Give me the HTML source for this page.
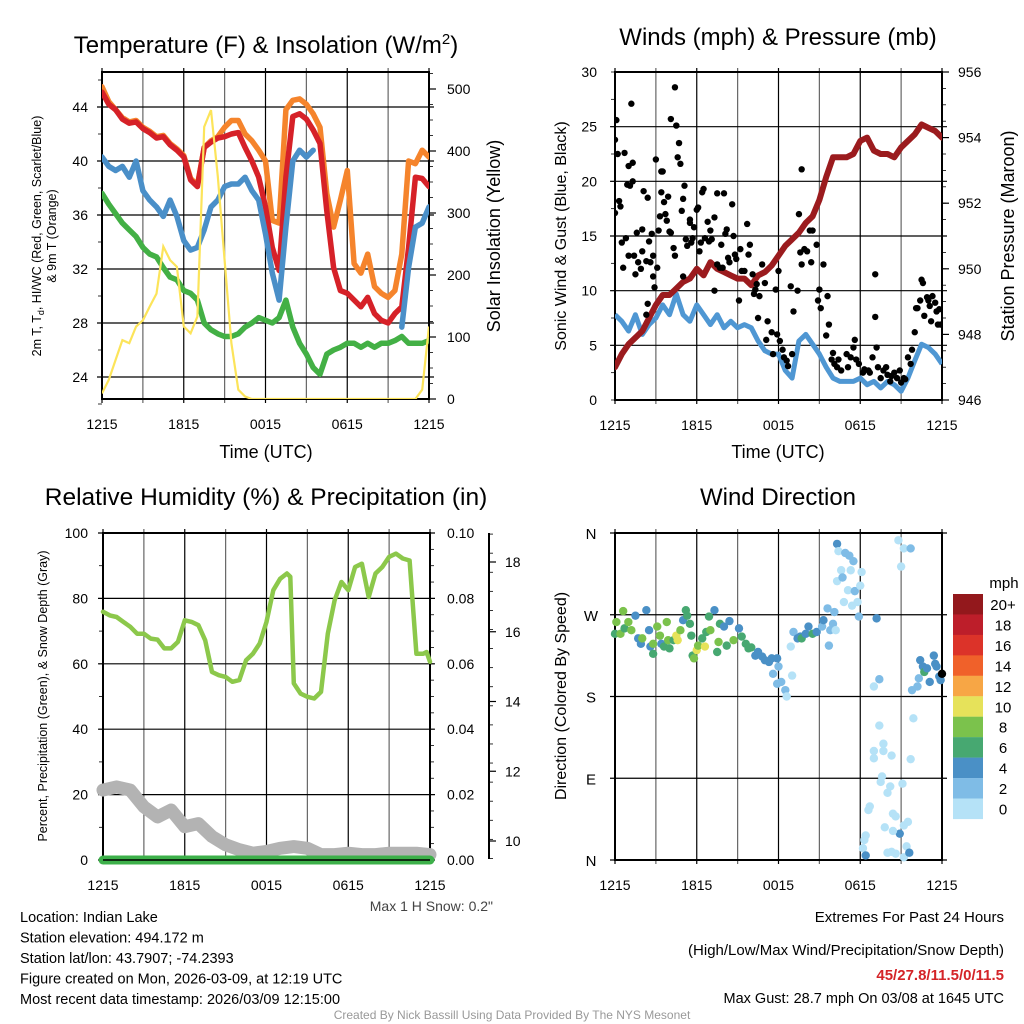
<!DOCTYPE html>
<html><head><meta charset="utf-8"><style>
html,body{margin:0;padding:0;background:#fff;}
svg{display:block;font-family:"Liberation Sans",Arial,sans-serif;}
</style></head><body>
<svg id="chart" width="1024" height="1024" viewBox="0 0 1024 1024" xmlns="http://www.w3.org/2000/svg"></svg>
<script>
// ---------- DATA ----------
const hoursHalf = [];for(let i=0;i<=48;i++)hoursHalf.push(i*0.5);
const xTickLabels = ["1215","1815","0015","0615","1215"];
const tempTicks = [24,28,32,36,40,44];
const solarTicks = [0,100,200,300,400,500];
const temp2m = [45.1,44.2,43.8,43.1,42.8,42.9,42.4,42.1,41.7,41.8,41.2,40.8,40.3,38.6,38.1,41.0,41.4,41.7,41.8,42.0,42.1,41.0,40.0,38.8,36.6,33.6,31.9,38.8,43.3,43.5,43.1,42.3,41.3,36.3,32.1,30.4,30.2,29.7,29.2,29.9,28.7,28.2,28.0,28.7,29.2,33.6,38.8,38.7,38.1];
const temp9m = [45.5,44.4,43.8,43.2,42.9,43.0,42.5,42.2,41.8,41.9,41.3,40.9,40.4,38.7,38.2,41.0,41.5,41.8,42.5,43.0,43.0,42.0,41.5,40.8,40.0,35.6,35.4,43.8,44.5,44.6,44.2,43.5,42.5,37.6,35.1,37.1,39.3,32.4,31.7,33.1,30.7,30.2,29.9,30.4,33.1,40.0,39.8,40.8,40.3];
const heatWindChill = [40.3,39.6,39.3,39.6,38.8,40.0,37.8,37.1,36.6,35.9,37.1,35.9,34.1,33.4,33.6,34.9,36.6,37.1,38.1,38.3,38.3,38.8,37.8,37.1,34.6,31.7,29.7,35.1,40.0,40.8,40.3,40.8,null,null,null,null,null,null,null,null,null,null,null,null,27.7,32.1,35.1,35.4,36.6];
const dewpoint = [37.6,36.8,36.1,35.4,34.9,34.4,33.6,33.1,32.9,32.1,31.4,31.2,30.4,30.2,29.7,28.0,27.5,27.2,27.0,27.0,27.2,27.7,28.0,28.4,28.2,28.0,28.4,29.7,27.7,26.5,25.7,24.7,24.2,25.7,26.0,26.2,26.5,26.5,26.2,26.5,26.2,26.5,26.5,26.7,27.0,26.5,26.5,26.5,26.7];
const solar = [9,31,63,95,90,117,127,149,170,246,224,213,117,106,133,439,466,359,224,90,15,4,0,0,0,0,0,0,0,0,0,0,0,0,0,0,0,0,0,0,0,0,0,0,0,0,0,15,117];
const windTicks = [0,5,10,15,20,25,30];
const pressTicks = [946,948,950,952,954,956];
const sonicWind = [7.8,7.2,6.3,7.8,6.0,6.9,7.5,8.7,7.8,9.7,7.8,7.2,8.7,7.8,6.9,7.8,6.6,7.2,6.6,6.9,6.6,5.4,4.5,4.2,4.2,2.7,2.0,5.4,6.0,5.1,4.2,3.0,2.0,1.7,1.7,1.7,2.0,1.4,1.7,1.1,1.7,1.4,0.8,2.0,3.6,5.1,4.8,4.2,3.3];
const pressure = [947.0,947.4,947.7,947.9,948.1,948.5,948.9,949.2,949.2,949.4,949.6,949.7,950.0,949.8,950.2,950.0,949.9,949.8,949.7,949.7,949.5,949.8,949.9,950.1,950.4,950.7,950.9,951.1,951.4,951.6,952.1,952.8,953.4,953.4,953.4,953.5,953.9,954.0,953.6,953.5,953.5,953.4,953.7,953.9,954.1,954.4,954.3,954.2,954.0];
const gustHours = [0,0,0.1,0.2,0.3,0.4,0.5,0.7,0.6,0.8,0.9,1.0,1.0,1.1,1.2,1.3,1.3,1.4,1.5,1.6,1.7,1.9,2.0,2.0,2.1,2.3,2.4,2.3,2.4,2.5,2.6,2.7,2.8,2.8,2.9,3.0,3.1,3.2,3.3,3.4,3.5,3.4,3.6,3.7,3.8,3.9,4.0,4.1,4.1,4.3,4.4,4.4,4.5,4.6,4.7,4.8,4.9,5.0,5.0,5.1,5.2,5.3,5.5,5.5,5.6,5.7,5.8,6.0,6.1,6.2,6.3,6.4,6.5,6.6,6.8,6.9,7.0,7.1,7.3,7.3,7.5,7.5,7.7,7.8,7.9,8.0,8.1,8.2,8.3,8.4,8.6,8.7,8.8,8.9,9.1,9.2,9.3,9.5,9.7,9.8,9.9,10.1,10.2,10.3,10.4,10.5,10.6,10.8,11.0,11.1,11.2,11.5,11.6,11.8,11.9,12.0,12.1,12.3,12.4,12.6,12.7,12.9,13.0,13.1,13.4,13.5,13.6,13.7,13.7,13.9,14.1,14.3,14.4,14.5,14.8,14.9,15.0,15.1,15.3,15.5,15.6,15.7,15.9,16.0,16.1,16.3,16.4,16.6,17.0,17.1,17.3,17.5,17.6,17.7,17.9,18.2,18.3,18.6,18.7,18.9,19.1,19.1,19.2,19.3,19.5,19.7,19.9,20.0,20.2,20.3,20.5,20.7,20.9,21.0,21.2,21.3,21.5,21.7,21.8,22.0,22.1,22.2,22.4,22.5,22.6,22.7,22.9,23.0,23.1,23.2,23.3,23.5,23.6,23.7,23.8,23.9];
const gustValues = [17.1,23.8,25.6,22.5,18.2,17.7,14.4,22.6,12.1,14.8,19.7,21.4,13.2,19.6,27.1,20.0,21.7,13.2,11.5,15.3,12.6,12.0,15.6,13.6,19.1,12.7,18.5,7.8,8.8,14.5,12.6,15.2,13.2,11.3,10.3,22.0,12.1,15.5,16.8,20.9,20.9,19.0,18.1,17.0,16.4,18.6,15.4,25.7,15.3,13.9,13.2,28.6,25.1,22.2,23.5,21.6,17.3,18.4,11.3,19.6,14.7,14.1,16.5,16.2,14.4,14.8,15.8,17.4,17.6,13.6,14.4,19.0,19.3,14.8,16.3,14.5,15.5,14.7,16.7,10.0,12.4,18.9,12.1,14.2,12.1,18.9,15.2,15.6,13.0,12.6,17.9,15.0,13.3,12.9,9.1,13.8,11.8,11.8,16.1,13.3,14.2,11.5,9.7,10.1,10.6,7.5,9.5,12.4,10.7,5.5,7.2,6.2,4.2,10.1,6.0,11.8,5.4,4.6,3.9,3.6,3.1,10.4,4.2,8.1,10.0,17.0,13.5,21.1,12.4,13.8,13.6,15.5,12.6,15.5,14.2,9.1,10.1,8.4,12.4,5.9,9.5,6.9,3.7,4.3,3.3,3.0,3.7,2.7,4.2,3.0,3.9,4.8,5.5,3.7,3.3,2.5,2.8,2.7,2.5,3.9,11.5,7.6,4.8,3.0,2.0,2.7,3.0,2.3,1.7,2.2,2.5,2.0,2.7,1.6,2.0,1.9,3.9,3.3,4.6,6.2,8.4,8.4,9.1,11.0,10.7,7.7,9.4,9.1,8.6,7.2,9.5,8.9,8.1,6.9,8.3,6.9];
const rhTicks = [0,20,40,60,80,100];
const precipTicks = ["0.00","0.02","0.04","0.06","0.08","0.10"];
const snowTicks = [10,12,14,16,18];
const rhHours = [0,0.5,1,1.5,2,2.5,3,3.5,4,4.5,5,5.5,6,6.5,7,7.5,8,8.5,9,9.5,10,10.5,11,11.5,12,12.5,13,13.5,13.75,14,14.5,15,15.5,16,16.5,17,17.5,18,18.5,19,19.5,20,20.5,21,21.5,22,22.5,23,23.5,23.75,24];
const rhValues = [75.9,74.8,74.3,72.8,71.3,69.2,69.2,67.7,67.4,64.7,64.7,66.7,73.3,72.8,71.8,67.2,57.5,56.5,56.0,54.5,55.0,61.1,63.1,66.2,72.8,82.5,86.0,87.6,86.6,54.0,50.9,49.9,49.4,51.4,69.2,79.4,85.0,82.5,89.6,90.6,80.4,87.6,89.6,92.7,93.7,92.2,91.6,63.1,63.1,63.6,60.6];
const snowHours = [0,1,2,3,4,5,6,7,8,9,10,11,12,13,14,15,16,17,18,19,20,21,22,23,24];
const snowDepth = [11.46,11.55,11.46,10.98,10.69,10.89,10.41,10.5,10.13,9.89,9.75,9.65,9.70,9.79,9.84,9.79,9.61,9.61,9.65,9.61,9.61,9.65,9.65,9.65,9.61];
const precip = [0,0,0,0,0,0,0,0,0,0,0,0,0,0,0,0,0,0,0,0,0,0,0,0,0];
const dirLabels = ["N","E","S","W","N"];
const dirHours = [0,0.1,0.4,0.6,0.7,0.98,1.2,1.5,1.7,1.9,2.0,2.3,2.5,2.6,2.8,2.8,3.1,3.3,3.4,3.6,3.8,3.9,4.0,4.3,4.5,4.6,4.8,5.0,5.2,5.3,5.5,5.6,5.7,5.8,6.0,6.1,6.4,6.6,6.7,6.9,7.0,7.3,7.5,7.6,7.7,8.0,8.2,8.4,8.7,9.1,9.3,9.6,9.8,10.0,10.3,10.5,10.8,11.0,11.3,11.5,11.6,11.9,12.0,11.9,12.2,12.5,12.6,12.9,13.0,13.1,13.4,13.6,13.7,14.0,14.2,14.5,14.8,15.2,15.3,15.6,15.7,15.8,16.0,16.2,16.1,16.3,16.4,16.3,16.6,16.7,16.8,16.9,17.1,17.2,17.3,17.4,17.5,17.6,17.8,17.9,18.0,18.1,19.2,19.4,19.0,19.4,19.0,19.7,19.7,20.3,19.0,19.6,19.5,20.2,20.0,18.7,18.6,19.8,20.4,20.6,20.9,20.4,18.4,18.3,18.2,18.4,20.0,20.3,20.6,21.2,21.4,21.6,21.2,21.5,21.1,21.7,21.9,20.8,21.2,21.7,21.0,21.8,22.2,22.3,22.4,22.6,22.7,22.9,23.1,23.4,23.5,23.6,23.8,23.9,24.0];
const dirValues = [249,262,249,274,255,262,253,269,244,238,244,275,253,235,227,238,257,247,238,235,262,242,233,242,247,242,253,264,275,269,260,247,225,222,231,236,244,235,251,268,253,275,229,240,260,257,236,263,242,255,246,238,233,234,225,229,224,220,218,222,205,222,213,194,196,187,180,235,203,251,244,246,244,249,257,249,251,257,264,277,236,253,260,253,273,348,340,307,319,311,284,338,297,335,319,280,329,296,284,268,302,317,266,199,191,148,120,128,120,115,112,92,86,81,74,59,55,36,51,48,29,32,27,22,13,5,8,9,7,3,15,8,38,42,84,111,156,352,343,343,323,187,191,200,220,213,207,211,196,225,216,213,202,198,205];
const dirSpeeds = [7,9,9,9,6,9,9,5,5,4,9,5,5,5,7,9,9,9,5,7,9,9,7,7,11,11,9,5,7,7,7,7,7,9,11,9,7,11,7,7,9,5,7,9,7,5,7,5,9,5,7,7,7,7,5,5,5,5,5,5,3,5,3,3,3,3,1,1,1,3,5,5,7,5,5,7,5,3,5,3,3,3,3,1,3,4,1,1,1,3,1,3,1,3,1,1,3,3,1,3,1,1,4,3,1,1,1,1,1,1,1,1,1,1,1,1,1,1,1,1,4,1,1,1,1,4,1,1,1,1,1,4,1,1,1,1,1,1,1,3,1,3,3,3,5,5,7,5,5,5,5,5,5,5];
const cbLabels = ["20+","18","16","14","12","10","8","6","4","2","0"];
const cbColors = ["#93181c","#bd1e2a","#dc3329","#f0612a","#f7a645","#e6e25a","#7bc24c","#47a871","#4a90c6","#7fbce6","#b5e2f7"];

// ---------- HELPERS ----------
const NS="http://www.w3.org/2000/svg";
const svg=document.getElementById('chart');
function mk(tag,attrs,parent){const e=document.createElementNS(NS,tag);for(const k in attrs)e.setAttribute(k,attrs[k]);(parent||svg).appendChild(e);return e;}
function txt(s,x,y,size,anchor,parent,extra){const e=mk('text',Object.assign({x:x,y:y,'font-size':size,'text-anchor':anchor||'middle',fill:'#000'},extra||{}),parent);e.textContent=s;return e;}
function linePath(xs,ys,fx,fy){let d='',pen=false;for(let i=0;i<xs.length;i++){if(ys[i]===null){pen=false;continue;}d+=(pen?'L':'M')+fx(xs[i]).toFixed(1)+' '+fy(ys[i]).toFixed(1);pen=true;}return d;}
function minor(g,x,y1,y2,n,dir){for(let i=0;i<=n;i++){const y=y1+(y2-y1)*i/n;const m=mk('line',{x1:x,x2:x+dir*4,y1:y,y2:y,stroke:'#000','stroke-width':0.8},g);
  
  }}
function frame(g,L,R,T,B,yGrid){
  for(let h=0;h<=24;h+=3){const x=L+h/24*(R-L);
    const gl=mk('line',{x1:x,x2:x,y1:T-4,y2:B+4,stroke:h%6?'#666':'#000','stroke-width':1.2},g);
    
    }
  yGrid.forEach(y=>{const gl=mk('line',{x1:L-5,x2:R+5,y1:y,y2:y,stroke:'#000','stroke-width':1.2},g);
    
    });
  const ax=mk('rect',{x:L,y:T,width:R-L,height:B-T,fill:'none',stroke:'#000','stroke-width':2},g);
  
  
  xTickLabels.forEach((s,i)=>{const t=txt(s,L+i*(R-L)/4,B+30,14,'middle',g);
    
    });
}

// ---------- PANEL 1 ----------
(function(){
  const L=102,R=429,T=72,B=399;
  const fx=h=>L+h/24*(R-L);
  const fy=v=>377-(v-24)*13.5;
  const fs=w=>399-w*0.62;
  const g=mk('g',{});
  
  
  frame(g,L,R,T,B,tempTicks.map(fy));
  minor(g,L,fy(22),fy(46),12,-1);
  minor(g,R,fs(0),fs(525),21,1);
  tempTicks.forEach(v=>{const t=txt(String(v),88,fy(v)+5,14,'end',g);
    
    });
  solarTicks.forEach(v=>{const tk=mk('line',{x1:R,x2:R+7,y1:fs(v),y2:fs(v),stroke:'#000','stroke-width':1.2},g);
    
    
    const t=txt(String(v),447,fs(v)+5,14,'start',g);
    
    });
  const cp=mk('clipPath',{id:'c1'},g);mk('rect',{x:L,y:T,width:R-L,height:B-T},cp);
  const cl=mk('g',{'clip-path':'url(#c1)'},g);
  const series=[[temp9m,'#f5842c','orange-9m-temp-line'],[temp2m,'#d62128','red-2m-temp-line'],[heatWindChill,'#4a8fc8','blue-wind-chill-line'],[dewpoint,'#43b045','green-dewpoint-line']];
  series.forEach(s=>{const p=mk('path',{d:linePath(hoursHalf,s[0],fx,fy),fill:'none',stroke:s[1],'stroke-width':5.5,'stroke-linejoin':'round','stroke-linecap':'round'},cl);
    
    });
  const ps=mk('path',{d:linePath(hoursHalf,solar,fx,fs),fill:'none',stroke:'#fce45a','stroke-width':2.2},cl);
  
  
  let t=mk('text',{x:266,y:53,'font-size':24,'text-anchor':'middle'},g);
  t.innerHTML='Temperature (F) &amp; Insolation (W/m<tspan dy="-9" font-size="15">2</tspan><tspan dy="9">)</tspan>';
  
  
  t=mk('text',{x:0,y:0,'font-size':12.5,'text-anchor':'middle',transform:'translate(41,236) rotate(-90)'},g);
  t.innerHTML='2m T, T<tspan dy="3" font-size="9">d</tspan><tspan dy="-3">, HI/WC (Red, Green, Scarlet/Blue)</tspan>';
  
  
  t=txt('& 9m T (Orange)',0,0,12.5,'middle',g,{transform:'translate(56,236) rotate(-90)'});
  
  
  t=txt('Solar Insolation (Yellow)',0,0,18,'middle',g,{transform:'translate(500,236) rotate(-90)'});
  
  
  t=txt('Time (UTC)',266,458,18,'middle',g);
  
  
})();

// ---------- PANEL 2 ----------
(function(){
  const L=615,R=942,T=72,B=400;
  const fx=h=>L+h/24*(R-L);
  const fy=v=>B-v*(B-T)/30;
  const fp=v=>B-(v-946)*(B-T)/10;
  const g=mk('g',{});
  
  
  frame(g,L,R,T,B,windTicks.slice(1,6).map(fy));
  minor(g,L,B,T,12,-1);
  minor(g,R,B,T,20,1);
  windTicks.forEach(v=>{const t=txt(String(v),597,fy(v)+5,14,'end',g);
    
    });
  pressTicks.forEach(v=>{const tk=mk('line',{x1:R,x2:R+7,y1:fp(v),y2:fp(v),stroke:'#000','stroke-width':1.2},g);
    
    
    const t=txt(String(v),958,fp(v)+5,14,'start',g);
    
    });
  const cp=mk('clipPath',{id:'c2'},g);mk('rect',{x:L,y:T,width:R-L,height:B-T},cp);
  const cl=mk('g',{'clip-path':'url(#c2)'},g);
  let p=mk('path',{d:linePath(hoursHalf,sonicWind,fx,fy),fill:'none',stroke:'#4f97d3','stroke-width':5,'stroke-linejoin':'round'},cl);
  
  
  p=mk('path',{d:linePath(hoursHalf,pressure,fx,fp),fill:'none',stroke:'#9b1b1e','stroke-width':6,'stroke-linejoin':'round','stroke-linecap':'round'},cl);
  
  
  gustHours.forEach((h,i)=>{const c=mk('circle',{cx:fx(h),cy:fy(gustValues[i]),r:3.2,fill:'#000'},cl);
    
    });
  let t=txt('Winds (mph) & Pressure (mb)',778,45,24,'middle',g);
  
  
  t=txt('Sonic Wind & Gust (Blue, Black)',0,0,16,'middle',g,{transform:'translate(566,236) rotate(-90)'});
  
  
  t=txt('Station Pressure (Maroon)',0,0,18,'middle',g,{transform:'translate(1014,236) rotate(-90)'});
  
  
  t=txt('Time (UTC)',778,458,18,'middle',g);
  
  
})();

// ---------- PANEL 3 ----------
(function(){
  const L=103,R=430,T=533,B=860;
  const fx=h=>L+h/24*(R-L);
  const fy=v=>B-v*(B-T)/100;
  const fsn=v=>841-(v-10)*34.875;
  const g=mk('g',{});
  
  
  frame(g,L,R,T,B,rhTicks.map(fy));
  minor(g,L,B,T,10,-1);
  minor(g,R,B,T,20,1);
  minor(g,489,fsn(9.5),fsn(18.8),17,1);
  rhTicks.forEach(v=>{const t=txt(String(v),88,fy(v)+5,14,'end',g);
    
    });
  precipTicks.forEach((s,i)=>{const t=txt(s,447,fy(i*20)+5,14,'start',g);
    
    });
  const sa=mk('line',{x1:489,x2:489,y1:533,y2:859,stroke:'#000','stroke-width':2},g);
  
  
  snowTicks.forEach(v=>{const tk=mk('line',{x1:489,x2:496,y1:fsn(v),y2:fsn(v),stroke:'#000','stroke-width':1.2},g);
    
    
    const t=txt(String(v),505,fsn(v)+5,14,'start',g);
    
    });
  let p=mk('path',{d:linePath(snowHours,snowDepth,fx,fsn),fill:'none',stroke:'#b3b3b3','stroke-width':13,'stroke-linejoin':'round','stroke-linecap':'round'},g);
  
  
  p=mk('path',{d:linePath(snowHours,precip,fx,fy),fill:'none',stroke:'#3db04a','stroke-width':9,'stroke-linecap':'round'},g);
  
  
  p=mk('path',{d:linePath(rhHours,rhValues,fx,fy),fill:'none',stroke:'#8cc84b','stroke-width':4.5,'stroke-linejoin':'round','stroke-linecap':'round'},g);
  
  
  const ln=mk('line',{x1:L,x2:R,y1:B,y2:B,stroke:'#000','stroke-width':1.5},g);
  
  
  let t=txt('Relative Humidity (%) & Precipitation (in)',266,505,24.5,'middle',g);
  
  
  t=txt('Percent, Precipitation (Green), & Snow Depth (Gray)',0,0,12.5,'middle',g,{transform:'translate(47,696) rotate(-90)'});
  
  
  t=txt('Max 1 H Snow: 0.2"',493,911,14,'end',g,{fill:'#444'});
  
  
})();

// ---------- PANEL 4 ----------
(function(){
  const L=615,R=942,T=533,B=860;
  const fx=h=>L+h/24*(R-L);
  const fy=v=>B-v*(B-T)/360;
  const g=mk('g',{});
  
  
  frame(g,L,R,T,B,[0,90,180,270,360].map(fy));
  dirLabels.forEach((s,i)=>{const t=txt(s,591,fy(i*90)+6,15,'middle',g);
    
    });
  const cp=mk('clipPath',{id:'c4'},g);mk('rect',{x:L-5,y:T-5,width:R-L+10,height:B-T+10},cp);
  const cl=mk('g',{'clip-path':'url(#c4)'},g);
  dirHours.forEach((h,i)=>{const bin=Math.min(10,Math.floor(dirSpeeds[i]/2));
    const c=mk('circle',{cx:fx(h),cy:fy(dirValues[i]),r:4.2,fill:cbColors[10-bin]},cl);
    
    });
  cbColors.forEach((col,i)=>{const r=mk('rect',{x:953,y:594+i*20.45,width:30,height:20.6,fill:col},g);
    
    
    const t=txt(cbLabels[i],1003,594+i*20.45+16,15,'middle',g);
    
    });
  let t=txt('mph',1004,588,15,'middle',g);
  
  
  t=txt('Wind Direction',778,505,24,'middle',g);
  
  
  t=txt('Direction (Colored By Speed)',0,0,16,'middle',g,{transform:'translate(566,696) rotate(-90)'});
  
  
})();

// ---------- FOOTER ----------
(function(){
  const g=mk('g',{});
  
  
  const left=["Location: Indian Lake","Station elevation: 494.172 m","Station lat/lon: 43.7907; -74.2393","Figure created on Mon, 2026-03-09, at 12:19 UTC","Most recent data timestamp: 2026/03/09 12:15:00"];
  left.forEach((s,i)=>{const t=txt(s,20,922+i*20.5,14.5,'start',g);
    
    });
  let t=txt('Extremes For Past 24 Hours',1004,922,15,'end',g);
  
  
  t=txt('(High/Low/Max Wind/Precipitation/Snow Depth)',1004,955,15,'end',g);
  
  
  t=txt('45/27.8/11.5/0/11.5',1004,980,15,'end',g,{fill:'#d42428','font-weight':'bold'});
  
  
  t=txt('Max Gust: 28.7 mph On 03/08 at 1645 UTC',1004,1003,14.5,'end',g);
  
  
  t=txt('Created By Nick Bassill Using Data Provided By The NYS Mesonet',512,1019,12,'middle',g,{fill:'#999'});
  
  
})();
</script>
</body></html>
